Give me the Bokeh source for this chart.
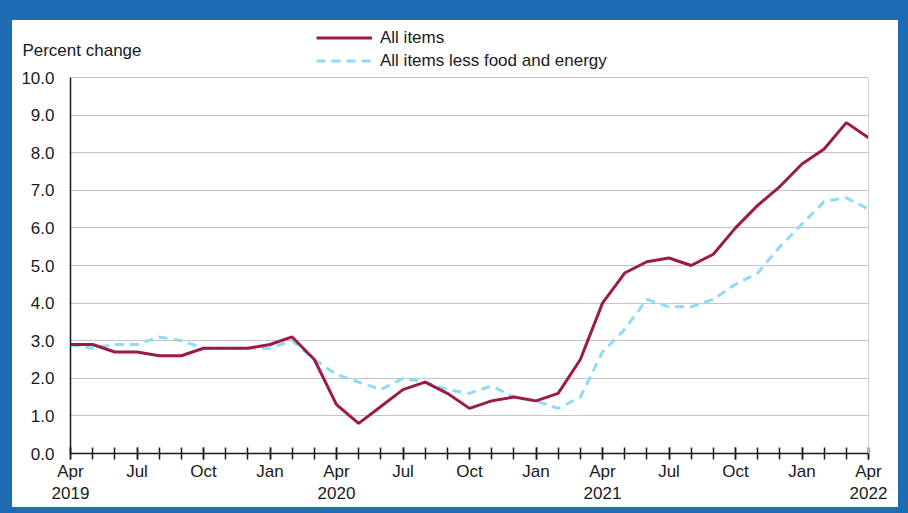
from bokeh.plotting import figure
from bokeh.models import (Range1d, FixedTicker, Legend, LegendItem, PrintfTickFormatter,
                          LinearAxis)
from bokeh.embed import file_html
from bokeh.resources import INLINE

# ---- data (12-month percent change) ----
months = ["Apr 2019", "May 2019", "Jun 2019", "Jul 2019", "Aug 2019", "Sep 2019",
          "Oct 2019", "Nov 2019", "Dec 2019", "Jan 2020", "Feb 2020", "Mar 2020",
          "Apr 2020", "May 2020", "Jun 2020", "Jul 2020", "Aug 2020", "Sep 2020",
          "Oct 2020", "Nov 2020", "Dec 2020", "Jan 2021", "Feb 2021", "Mar 2021",
          "Apr 2021", "May 2021", "Jun 2021", "Jul 2021", "Aug 2021", "Sep 2021",
          "Oct 2021", "Nov 2021", "Dec 2021", "Jan 2022", "Feb 2022", "Mar 2022",
          "Apr 2022"]
all_items = [2.9, 2.9, 2.7, 2.7, 2.6, 2.6, 2.8, 2.8, 2.8, 2.9, 3.1, 2.5,
             1.3, 0.8, 1.25, 1.7, 1.9, 1.6, 1.2, 1.4, 1.5, 1.4, 1.6, 2.5,
             4.0, 4.8, 5.1, 5.2, 5.0, 5.3, 6.0, 6.6, 7.1, 7.7, 8.1, 8.8, 8.4]
core = [2.9, 2.8, 2.9, 2.9, 3.1, 3.0, 2.8, 2.8, 2.8, 2.8, 3.0, 2.5,
        2.1, 1.9, 1.7, 2.0, 1.9, 1.7, 1.6, 1.8, 1.5, 1.4, 1.2, 1.5,
        2.7, 3.3, 4.1, 3.9, 3.9, 4.1, 4.5, 4.8, 5.5, 6.1, 6.7, 6.8, 6.5]
tick_positions = [0, 3, 6, 9, 12, 15, 18, 21, 24, 27, 30, 33, 36]
tick_labels = ["Apr\n2019", "Jul", "Oct", "Jan", "Apr\n2020", "Jul", "Oct", "Jan",
               "Apr\n2021", "Jul", "Oct", "Jan", "Apr\n2022"]
y_ticks = [0, 1, 2, 3, 4, 5, 6, 7, 8, 9, 10]
y_title = "Percent change"
y_title_at = 10.72   # value level at which the caption sits

x = list(range(len(months)))

FONT = "Liberation Sans"
RED = "#9c1a4a"
CYAN = "#8fdcf2"
INK = "#1a1a1a"

p = figure(width=908, height=513, output_backend="svg", toolbar_location=None,
           x_range=Range1d(0, 36), y_range=Range1d(0, 11.41),
           min_border_left=58, min_border_right=52, min_border_top=4,
           min_border_bottom=80)
p.styles = {"border-style": "solid", "border-color": "#1f6cb5",
            "border-width": "20px 10px 6px 12px"}
p.background_fill_color = "white"
p.border_fill_color = "white"
p.outline_line_color = None

# grid
p.xgrid.visible = False
p.ygrid.ticker = FixedTicker(ticks=y_ticks)
p.ygrid.grid_line_color = "#c4c4c4"
p.ygrid.grid_line_width = 1

# x axis
xa = p.xaxis[0]
xa.ticker = FixedTicker(ticks=tick_positions, minor_ticks=x)
xa.major_label_overrides = {pos: lab for pos, lab in zip(tick_positions, tick_labels)}
xa.major_tick_in = 6
xa.major_tick_out = 6
xa.minor_tick_in = 6
xa.minor_tick_out = 6
xa.major_tick_line_color = INK
xa.minor_tick_line_color = INK
xa.major_tick_line_width = 1.5
xa.minor_tick_line_width = 1.5
xa.axis_line_color = INK
xa.axis_line_width = 1.5
xa.major_label_text_font = FONT
xa.major_label_text_font_size = "17px"
xa.major_label_text_color = INK
xa.major_label_standoff = 2

# y axis
ya = p.yaxis[0]
ya.ticker = FixedTicker(ticks=y_ticks)
ya.formatter = PrintfTickFormatter(format="%.1f")
ya.bounds = (0, 10)
ya.major_tick_in = 0
ya.major_tick_out = 0
ya.minor_tick_line_color = None
ya.axis_line_color = INK
ya.axis_line_width = 1.5
ya.major_label_text_font = FONT
ya.major_label_text_font_size = "17px"
ya.major_label_text_color = INK
ya.major_label_standoff = 16

# caption "Percent change" as the single label of an outer left axis
cap = LinearAxis(ticker=FixedTicker(ticks=[y_title_at]),
                 major_label_overrides={y_title_at: y_title},
                 axis_line_color=None, major_tick_line_color=None,
                 minor_tick_line_color=None, major_tick_out=0, major_tick_in=0,
                 major_label_standoff=-123)
cap.major_label_text_font = FONT
cap.major_label_text_font_size = "17px"
cap.major_label_text_color = INK
cap.major_label_text_align = "right"
p.add_layout(cap, "left")

# faint right border line of the plot area
rax = LinearAxis(ticker=FixedTicker(ticks=[]), bounds=(0, 10),
                 axis_line_color="#d0d0d0", axis_line_width=1,
                 major_tick_line_color=None, minor_tick_line_color=None)
p.add_layout(rax, "right")

r_core = p.line(x, core, line_color=CYAN, line_width=3, line_dash="9 6")
r_all = p.line(x, all_items, line_color=RED, line_width=3)

legend = Legend(items=[LegendItem(label="All items", renderers=[r_all]),
                       LegendItem(label="All items less food and energy", renderers=[r_core])],
                location=(246, 382), orientation="vertical",
                padding=0, margin=0, spacing=2,
                glyph_width=56, glyph_height=21, label_height=21,
                label_standoff=8, border_line_color=None,
                background_fill_alpha=0)
legend.label_text_font = FONT
legend.label_text_font_size = "17px"
legend.label_text_color = INK
p.add_layout(legend, "center")

html = file_html(p, INLINE)
open("out.html", "w").write(html)
